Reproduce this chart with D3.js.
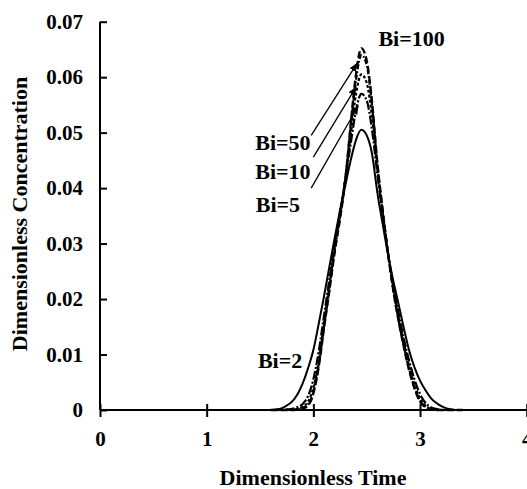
<!DOCTYPE html>
<html>
<head>
<meta charset="utf-8">
<script src="https://cdn.jsdelivr.net/npm/d3@7"></script>
<style>
  body { margin: 0; background: #fff; }
  text { font-family: "Liberation Serif", "Times New Roman", serif; font-weight: bold; fill: #000; }
</style>
</head>
<body>
<svg id="chart" width="527" height="489"></svg>
<script>
// dimensionless time grid (shared by all curves)
var times = [1.60,1.65,1.70,1.75,1.80,1.85,1.90,1.95,2.00,2.05,2.10,2.15,2.20,2.25,2.30,2.35,2.40,2.45,2.50,2.55,
             2.60,2.65,2.70,2.75,2.80,2.85,2.90,2.95,3.00,3.05,3.10,3.15,3.20,3.25,3.30,3.35,3.40];

// concentration for each Biot number
var bi2   = [0,0.0001,0.0003,0.0008,0.0015,0.0028,0.0048,0.0075,0.0108,0.0155,0.0205,0.0258,0.0310,0.0360,0.0405,0.0450,0.0487,0.0505,0.0495,0.0462,
             0.0392,0.0335,0.0280,0.0232,0.0190,0.0146,0.0106,0.0076,0.0053,0.0036,0.0022,0.0013,0.0007,0.0003,0.0001,0,0];
var bi5   = [0,0,0,0.0001,0.0002,0.0005,0.0011,0.0025,0.0055,0.0105,0.0170,0.0235,0.0300,0.0355,0.0415,0.0480,0.0540,0.0570,0.0558,0.0505,
             0.0425,0.0352,0.0284,0.0225,0.0174,0.0127,0.0087,0.0054,0.0029,0.0013,0.0005,0.0002,0,0,0,0,0];
var bi10  = [0,0,0,0,0.0001,0.0002,0.0006,0.0015,0.0040,0.0088,0.0156,0.0224,0.0293,0.0352,0.0418,0.0495,0.0570,0.0605,0.0590,0.0528,
             0.0435,0.0356,0.0283,0.0220,0.0166,0.0119,0.0078,0.0045,0.0021,0.0008,0.0002,0.0001,0,0,0,0,0];
var bi50  = [0,0,0,0,0,0.0001,0.0004,0.0010,0.0033,0.0080,0.0150,0.0218,0.0288,0.0348,0.0418,0.0510,0.0595,0.0640,0.0622,0.0550,
             0.0442,0.0358,0.0282,0.0216,0.0161,0.0114,0.0072,0.0040,0.0017,0.0006,0.0001,0,0,0,0,0,0];
var bi100 = [0,0,0,0,0,0.0001,0.0003,0.0008,0.0030,0.0078,0.0148,0.0215,0.0285,0.0345,0.0415,0.0515,0.0605,0.0652,0.0630,0.0555,
             0.0445,0.0360,0.0282,0.0215,0.0160,0.0112,0.0070,0.0038,0.0015,0.0005,0.0001,0,0,0,0,0,0];

var xTicks = [0,1,2,3,4];
var yTicks = [0,0.01,0.02,0.03,0.04,0.05,0.06,0.07];

// labels and pointer lines, in data units
var labelNames = ["Bi=100","Bi=50","Bi=10","Bi=5","Bi=2"];
var labelX     = [2.61, 1.455, 1.455, 1.46, 1.48];
var labelY     = [0.0657, 0.0469, 0.0416, 0.0357, 0.0075];
var arrowFrom  = [null, [1.98,0.0495], [2.00,0.0456], [1.98,0.0400], null];
var arrowTo    = [null, [2.41,0.0625], [2.40,0.0582], [2.42,0.0548], null];

var svg = d3.select("#chart");

var x = d3.scaleLinear().domain([0,4]).range([100,526.7]);
var y = d3.scaleLinear().domain([0,0.07]).range([410,21.7]);

// axes - ticks cross the axis line
var xAxis = svg.append("g").attr("transform","translate(0,410)")
  .call(d3.axisBottom(x).tickValues(xTicks).tickSize(6).tickFormat(d3.format("d")));
xAxis.selectAll(".tick line").attr("y1",-6).attr("y2",7);
xAxis.select(".domain").attr("d","M100,0H527");

var yAxis = svg.append("g").attr("transform","translate(100,0)")
  .call(d3.axisLeft(y).tickValues(yTicks).tickSize(7)
    .tickFormat(function(d){ return d === 0 ? "0" : d3.format(".2f")(d); }));
yAxis.selectAll(".tick line").attr("x2",7);
yAxis.select(".domain").attr("d","M0,21.7V410");

svg.selectAll(".domain, .tick line").attr("stroke","#000").attr("stroke-width",2);
xAxis.selectAll(".tick text").attr("font-size",21).attr("y",21).attr("dy","0.71em")
  .style("font-family","Liberation Serif").style("font-weight","bold");
yAxis.selectAll(".tick text").attr("font-size",21).attr("x",-17)
  .style("font-family","Liberation Serif").style("font-weight","bold");

// axis titles
svg.append("text").attr("x",313).attr("y",485).attr("text-anchor","middle")
  .attr("font-size",22).text("Dimensionless Time");
svg.append("text").attr("transform","translate(27,214) rotate(-90)").attr("text-anchor","middle")
  .attr("font-size",22).text("Dimensionless Concentration");

// curves
var series = [
  {vals: bi2,   dash: null,          w: 2},
  {vals: bi5,   dash: "9,2,2,2",     w: 2.2},
  {vals: bi10,  dash: "3,2",         w: 2.2},
  {vals: bi50,  dash: "5,2,1.5,2",   w: 2.2},
  {vals: bi100, dash: "7,3",         w: 2.4}
];

var line = d3.line()
  .x(function(d){ return x(d[0]); })
  .y(function(d){ return y(d[1]); })
  .curve(d3.curveMonotoneX);

series.forEach(function(s){
  var pts = times.map(function(t,i){ return [t, s.vals[i]]; });
  svg.append("path").datum(pts)
    .attr("d", line)
    .attr("fill","none")
    .attr("stroke","#000")
    .attr("stroke-width", s.w)
    .attr("stroke-dasharray", s.dash);
});

// arrow head marker
svg.append("defs").append("marker")
  .attr("id","arr").attr("viewBox","0 0 10 10").attr("refX",9).attr("refY",5)
  .attr("markerWidth",7).attr("markerHeight",7).attr("orient","auto")
  .append("path").attr("d","M0,1L10,5L0,9Z").attr("fill","#000");

labelNames.forEach(function(name,i){
  svg.append("text").attr("x",x(labelX[i])).attr("y",y(labelY[i]))
    .attr("font-size",22).text(name);
  if (arrowFrom[i]) {
    svg.append("line")
      .attr("x1",x(arrowFrom[i][0])).attr("y1",y(arrowFrom[i][1]))
      .attr("x2",x(arrowTo[i][0])).attr("y2",y(arrowTo[i][1]))
      .attr("stroke","#000").attr("stroke-width",1.3)
      .attr("marker-end","url(#arr)");
  }
});
</script>
</body>
</html>
